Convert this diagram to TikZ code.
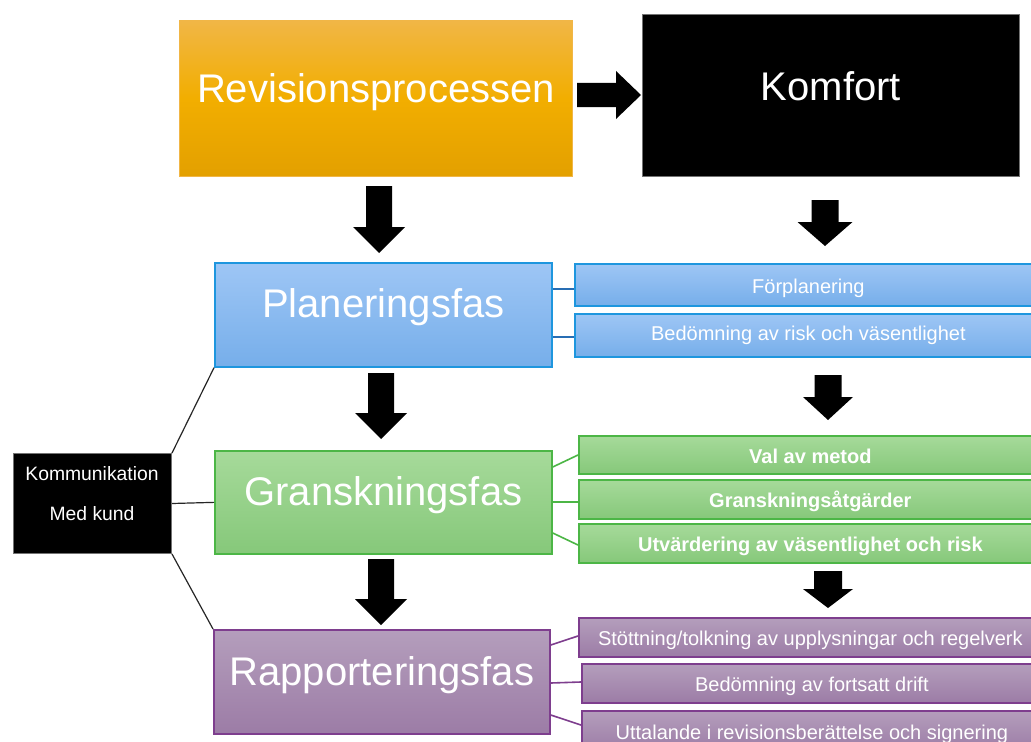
\documentclass[tikz,border=0pt]{standalone}
\usepackage{fontspec}
\setmainfont{Liberation Sans}
\definecolor{orTop}{RGB}{241,182,70}
\definecolor{orMid}{RGB}{242,174,0}
\definecolor{orBot}{RGB}{227,160,0}
\definecolor{blTop}{RGB}{158,198,245}
\definecolor{blBot}{RGB}{118,174,234}
\definecolor{blLine}{RGB}{30,150,222}
\definecolor{blCon}{RGB}{40,110,180}
\definecolor{grTop}{RGB}{166,218,154}
\definecolor{grBot}{RGB}{134,200,122}
\definecolor{grLine}{RGB}{76,182,70}
\definecolor{puTop}{RGB}{180,158,188}
\definecolor{puBot}{RGB}{156,124,166}
\definecolor{puLine}{RGB}{126,62,142}
\newcommand\DownArr[6]{\fill (#1-#5,#2) -- (#1+#5,#2) -- (#1+#5,#3) -- (#1+#6,#3) -- (#1,#4) -- (#1-#6,#3) -- (#1-#5,#3) -- cycle;}
\begin{document}
\begin{tikzpicture}[x=0.75pt,y=-0.75pt,
  box/.style={anchor=north west, inner sep=0pt, text=white, align=center},
  big/.style={box, font=\fontsize{30pt}{36pt}\selectfont},
  small/.style={box, font=\fontsize{15pt}{18pt}\selectfont},
  orangebox/.style={big, top color=orTop, bottom color=orBot, middle color=orMid, draw=orTop, line width=0.75pt},
  blackbox/.style={draw=black!55, fill=black, line width=0.75pt},
  bluebox/.style={top color=blTop, bottom color=blBot, draw=blLine, line width=1.3pt},
  greenbox/.style={top color=grTop, bottom color=grBot, draw=grLine, line width=1.3pt},
  purplebox/.style={top color=puTop, bottom color=puBot, draw=puLine, line width=1.3pt},
  bluecon/.style={draw=blCon, line width=1.2pt},
  greencon/.style={draw=grLine, line width=1.2pt},
  purplecon/.style={draw=puLine, line width=1.2pt},
  blackcon/.style={draw=black!85, line width=0.9pt},
  labeltext/.style={anchor=base, text=white, inner sep=0pt, font=\fontsize{14.5pt}{17pt}\selectfont}
]
\clip (0,0) rectangle (1031,742);
\fill[white] (0,0) rectangle (1031,742);

% top row
\node[orangebox, minimum width=294.75pt, text height=61.5pt, text depth=55.5pt] (rev) at (179,20) {Revisionsprocessen};
\node[big, blackbox, minimum width=282.75pt, text height=64.5pt, text depth=57pt] (komf) at (642,14) {Komfort};

% phases
\node[big, bluebox, minimum width=252.75pt, text height=41.25pt, text depth=36.75pt] (plan) at (214,262) {Planeringsfas};
\node[big, greenbox, minimum width=252.75pt, text height=41.25pt, text depth=36pt] (gran) at (214,450) {Granskningsfas};
\node[big, purplebox, minimum width=252pt, text height=42pt, text depth=36pt] (rapp) at (213,629) {Rapporteringsfas};

% communication box
\node[box, blackbox, minimum width=118.5pt, minimum height=75pt] (komm) at (13,453) {};
\node[labeltext] (komm1) at (92,480) {Kommunikation};
\node[labeltext] (komm2) at (92,520) {Med kund};

% sub boxes
\node[small, bluebox, minimum width=350.25pt, text height=22.5pt, text depth=9pt] (s1) at (574,263) {Förplanering};
\node[small, bluebox, minimum width=350.25pt, text height=20.25pt, text depth=12pt] (s2) at (574,313) {Bedömning av risk och väsentlighet};
\node[small, greenbox, font=\fontsize{15pt}{18pt}\selectfont\bfseries, minimum width=347.25pt, text height=21pt, text depth=7.5pt] (g1) at (578,435) {Val av metod};
\node[small, greenbox, font=\fontsize{15pt}{18pt}\selectfont\bfseries, minimum width=347.25pt, text height=21pt, text depth=8.25pt] (g2) at (578,479) {Granskningsåtgärder};
\node[small, greenbox, font=\fontsize{15pt}{18pt}\selectfont\bfseries, minimum width=347.25pt, text height=21pt, text depth=8.25pt] (g3) at (578,523) {Utvärdering av väsentlighet och risk};
\node[small, purplebox, minimum width=347.25pt, text height=21pt, text depth=8.25pt] (p1) at (578,617) {Stöttning/tolkning av upplysningar och regelverk};
\node[small, purplebox, minimum width=345pt, text height=21pt, text depth=8.25pt] (p2) at (581,663) {Bedömning av fortsatt drift};
\node[small, purplebox, minimum width=345pt, text height=21.75pt, text depth=8.25pt] (p3) at (581,710) {Uttalande i revisionsberättelse och signering};

% block arrows
\fill (577,83) -- (616,83) -- (616,71) -- (641,95) -- (616,119) -- (616,107) -- (577,107) -- cycle;
\DownArr{379}{186}{227}{253}{13}{26}
\DownArr{381}{373}{413}{439}{13}{26}
\DownArr{381}{559}{599}{625}{13}{26}
\DownArr{825}{200}{222}{246}{13.5}{27.5}
\DownArr{828}{375}{397}{420}{13.5}{25}
\DownArr{828}{571}{589}{608}{14}{25}

% connectors
\draw[bluecon] (plan.east |- 0,289) -- (s1.west |- 0,289);
\draw[bluecon] (plan.east |- 0,337) -- (s2.west |- 0,337);
\draw[greencon] (gran.east |- 0,467) -- (g1.west |- 0,455);
\draw[greencon] (gran.east |- 0,502) -- (g2.west |- 0,502);
\draw[greencon] (gran.east |- 0,533) -- (g3.west |- 0,545);
\draw[purplecon] (rapp.east |- 0,645) -- (p1.west |- 0,636);
\draw[purplecon] (rapp.east |- 0,683) -- (p2.west |- 0,682);
\draw[purplecon] (rapp.east |- 0,715) -- (p3.west |- 0,725);
\draw[blackcon] (komm.north east) -- (plan.south west);
\draw[blackcon] (komm.east) -- (gran.west);
\draw[blackcon] (komm.south east) -- (rapp.north west);
\end{tikzpicture}
\end{document}
